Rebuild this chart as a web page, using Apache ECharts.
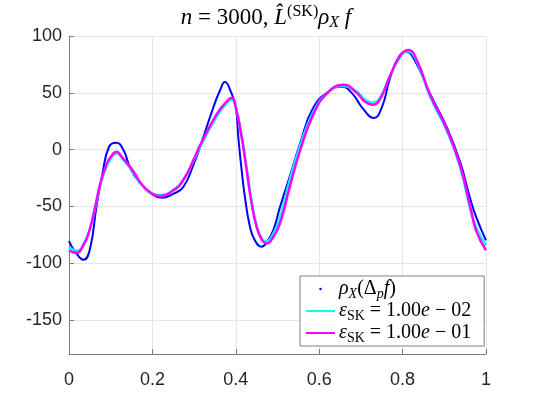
<!DOCTYPE html>
<html>
<head>
<meta charset="utf-8">
<script src="https://cdn.jsdelivr.net/npm/echarts@6/dist/echarts.min.js"></script>
<style>
  html, body { margin: 0; padding: 0; background: #fff; }
  #chart { width: 537px; height: 399px; }
</style>
</head>
<body>
<div id="chart"></div>
<script>
// values, [x, y]
const rhoDelta = [
  [0, -80.7], [0.015, -90], [0.035, -97], [0.05, -88], [0.066, -50], [0.08, -22],
  [0.096, 2.5], [0.113, 6], [0.13, 0], [0.149, -18], [0.175, -31], [0.2, -39.5],
  [0.222, -42.5], [0.25, -39], [0.274, -33], [0.3, -12], [0.314, 2], [0.346, 37],
  [0.362, 52], [0.374, 59.5], [0.388, 51], [0.4, 37], [0.406, 11], [0.414, -18],
  [0.422, -42], [0.434, -68], [0.446, -80], [0.462, -85.5], [0.475, -81], [0.49, -71],
  [0.506, -50.6], [0.53, -23], [0.554, 5], [0.586, 37], [0.626, 52], [0.654, 55.3],
  [0.68, 49], [0.705, 36], [0.731, 27.8], [0.75, 37], [0.77, 63], [0.79, 81],
  [0.808, 86.2], [0.83, 78], [0.866, 49], [0.906, 19.6], [0.938, -11], [0.962, -43],
  [0.977, -60], [1, -80]
];
const skEps2 = [
  [0, -86.5], [0.02, -89], [0.035, -83], [0.05, -70], [0.063, -51], [0.075, -31],
  [0.09, -15], [0.1, -8], [0.114, -3.2], [0.127, -7.5], [0.153, -19.5], [0.175, -31.5],
  [0.2, -39], [0.218, -40], [0.25, -35.5], [0.274, -26.5], [0.3, -9], [0.314, 2],
  [0.354, 29], [0.375, 39.5], [0.39, 44], [0.4, 37], [0.414, 12], [0.426, -16],
  [0.438, -46], [0.45, -67], [0.462, -78.5], [0.472, -81], [0.49, -74], [0.506, -60],
  [0.53, -26], [0.554, 3], [0.586, 33], [0.62, 50], [0.656, 56], [0.69, 51],
  [0.71, 44], [0.728, 41.5], [0.746, 46], [0.77, 65], [0.795, 82], [0.812, 86.5],
  [0.835, 77], [0.866, 46.5], [0.906, 16.5], [0.938, -16], [0.962, -52], [0.977, -69],
  [1, -84.5]
];
const skEps1 = [
  [0, -89], [0.017, -91], [0.035, -84], [0.05, -70], [0.063, -50], [0.075, -30],
  [0.09, -13], [0.1, -6.5], [0.114, -2], [0.127, -6.7], [0.153, -18.5], [0.175, -31],
  [0.2, -39], [0.217, -41], [0.25, -36], [0.274, -27], [0.3, -8], [0.314, 3.5],
  [0.354, 31], [0.375, 41], [0.39, 45.3], [0.4, 37], [0.414, 11], [0.426, -18],
  [0.438, -47.6], [0.45, -68], [0.462, -79], [0.474, -82.7], [0.49, -77], [0.506, -65],
  [0.53, -32], [0.554, -1], [0.586, 31], [0.62, 50], [0.658, 57], [0.69, 50],
  [0.71, 42], [0.728, 39.5], [0.746, 44.5], [0.77, 65], [0.795, 83], [0.814, 87.7],
  [0.835, 78], [0.866, 48], [0.906, 18], [0.938, -14], [0.962, -50], [0.977, -72],
  [1, -88.6]
];
const yTicks = [-150, -100, -50, 0, 50, 100];

const serif = 'Liberation Serif';
const base = { fontFamily: serif, fontWeight: 'normal', color: '#000' };
function mathStyles(size, small) {
  return {
    t: { ...base, fontSize: size, lineHeight: size + 4 },
    i: { ...base, fontSize: size, lineHeight: size + 4, fontStyle: 'italic' },
    sub: { ...base, fontSize: small, lineHeight: small + 1, verticalAlign: 'bottom' },
    subi: { ...base, fontSize: small, lineHeight: small + 1, verticalAlign: 'bottom', fontStyle: 'italic' },
    sup: { ...base, fontSize: small, lineHeight: small + 1, verticalAlign: 'top' }
  };
}
const legendLabels = {
  rho: '{i|ρ}{subi|X}{t|(Δ}{subi|p}{i|f}{t|)}',
  eps2: '{i|ε}{sub|SK}{t| = 1.00}{i|e}{t| − 02}',
  eps1: '{i|ε}{sub|SK}{t| = 1.00}{i|e}{t| − 01}'
};

const chart = echarts.init(document.getElementById('chart'), null, { renderer: 'canvas' });

chart.setOption({
  animation: false,
  backgroundColor: '#fff',
  title: {
    text: '{i|n}{t| = 3000, }{i|L̂}{sup|(SK)}{i|ρ}{subi|X}{i| f}',
    left: 266,
    textAlign: 'center',
    top: 4,
    padding: 0,
    textStyle: { fontWeight: 'normal', rich: mathStyles(23, 16) }
  },
  grid: { left: 69, right: 51, top: 36, bottom: 45 },
  legend: {
    orient: 'vertical',
    left: 300,
    top: 276,
    padding: [3, 13, 1, 5],
    itemGap: 0,
    itemWidth: 29,
    itemHeight: 2.5,
    backgroundColor: '#fff',
    borderColor: '#808080',
    borderWidth: 1,
    borderRadius: 0,
    selectedMode: false,
    formatter: name => legendLabels[name],
    textStyle: { rich: mathStyles(20, 14), padding: [0, 0, 0, -1] },
    data: [
      { name: 'rho', icon: 'circle', itemStyle: { color: '#0000ff' } },
      { name: 'eps2' },
      { name: 'eps1' }
    ]
  },
  xAxis: {
    type: 'value',
    min: 0,
    max: 1,
    interval: 0.2,
    axisLine: { onZero: false, lineStyle: { color: '#7a7a7a', width: 1 } },
    axisTick: { inside: true, length: 5, lineStyle: { color: '#7a7a7a' } },
    axisLabel: { margin: 17, color: '#262626', fontFamily: 'Liberation Sans', fontSize: 18 },
    splitLine: { show: true, lineStyle: { color: '#e6e6e6', width: 1 } }
  },
  yAxis: {
    type: 'value',
    min: -180,
    max: 100,
    axisLine: { show: true, onZero: false, lineStyle: { color: '#7a7a7a', width: 1 } },
    axisTick: { show: true, inside: true, length: 5, customValues: yTicks, lineStyle: { color: '#7a7a7a' } },
    axisLabel: { margin: 7, customValues: yTicks, color: '#262626', fontFamily: 'Liberation Sans', fontSize: 18 },
    splitLine: { show: true, lineStyle: { color: '#e6e6e6', width: 1 } }
  },
  series: [
    {
      name: 'rho', type: 'line', data: rhoDelta, smooth: 0.5, symbol: 'none',
      lineStyle: { color: '#0000ff', width: 2 }, itemStyle: { color: '#0000ff' }, z: 2
    },
    {
      name: 'eps2', type: 'line', data: skEps2, smooth: 0.5, symbol: 'none',
      lineStyle: { color: '#00ffff', width: 2.5 }, itemStyle: { color: '#00ffff' }, z: 3
    },
    {
      name: 'eps1', type: 'line', data: skEps1, smooth: 0.5, symbol: 'none',
      lineStyle: { color: '#ff00ff', width: 2.5 }, itemStyle: { color: '#ff00ff' }, z: 4
    }
  ]
});
</script>
</body>
</html>
